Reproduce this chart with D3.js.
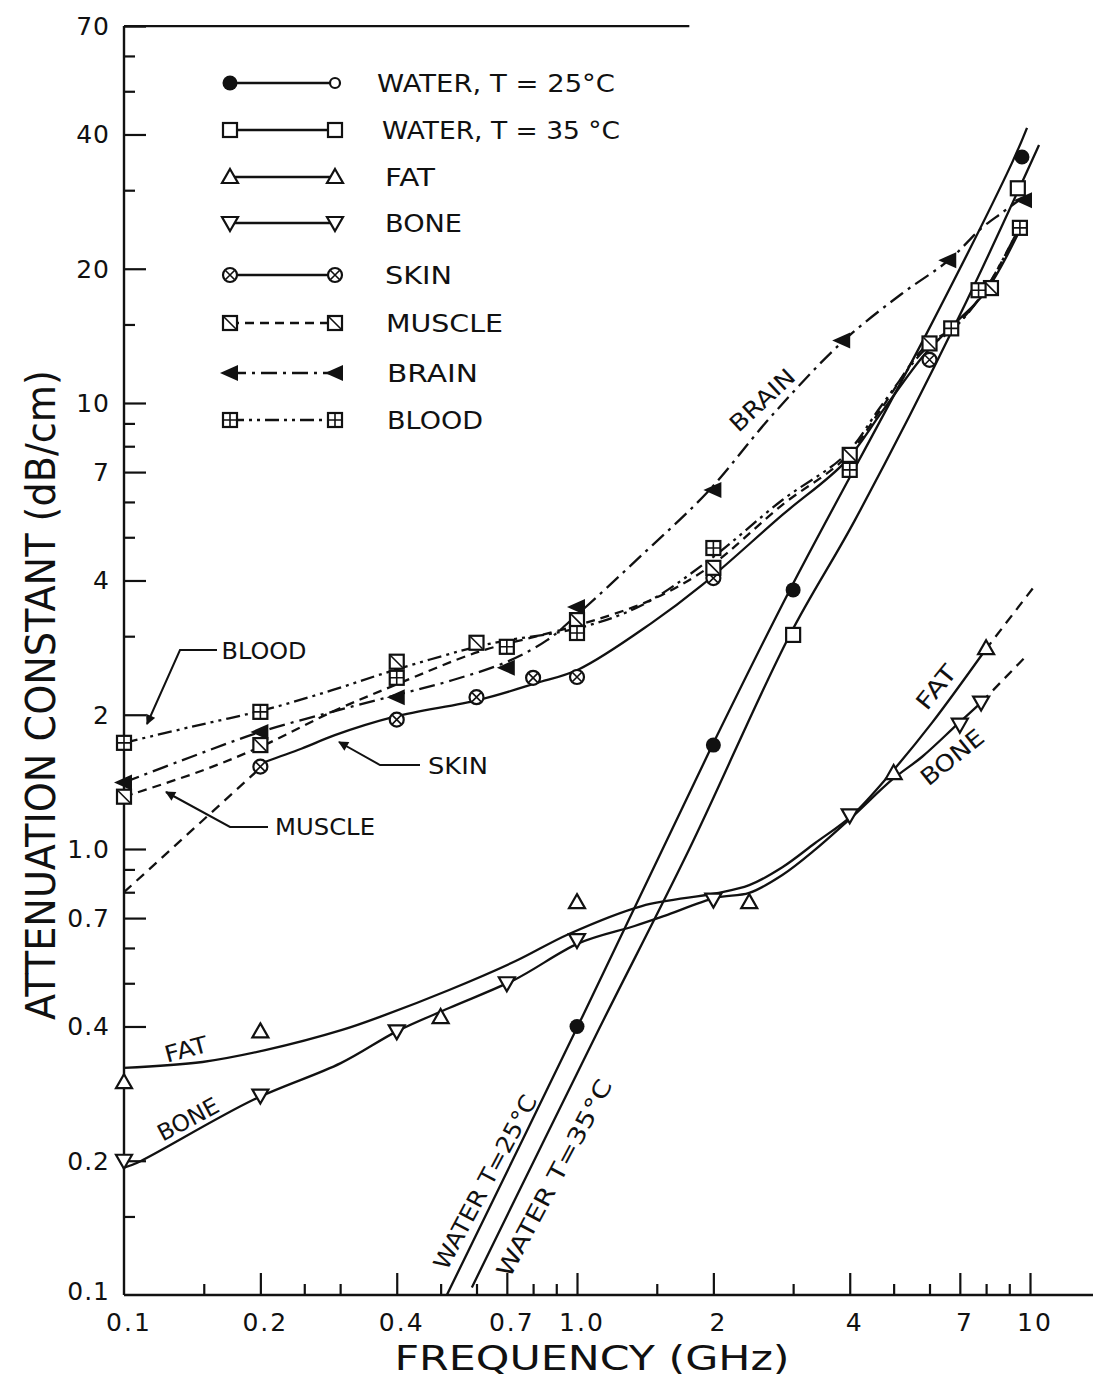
<!DOCTYPE html>
<html>
<head>
<meta charset="utf-8">
<script src="https://cdn.jsdelivr.net/npm/d3@7"></script>
<style>
  body { margin: 0; background: #fff; }
  svg { display: block; }
  text { font-family: "DejaVu Sans", sans-serif; fill: #111; }
</style>
</head>
<body>
<svg id="chart"></svg>
<script>
// ---- tick values / labels ----
const xMajor = [0.1, 0.2, 0.4, 0.7, 1, 2, 4, 7, 10];
const xMajorLabels = ["0.1", "0.2", "0.4", "0.7", "1.0", "2", "4", "7", "10"];
const xMinor = [0.15, 0.25, 0.3, 0.5, 0.6, 0.8, 0.9, 1.5, 3, 5, 6, 8, 9];
const yMajor = [0.2, 0.4, 0.7, 1, 2, 4, 7, 10, 20, 40, 70];
const yLabelValues = [0.1, 0.2, 0.4, 0.7, 1, 2, 4, 7, 10, 20, 40, 70];
const yLabels = ["0.1", "0.2", "0.4", "0.7", "1.0", "2", "4", "7", "10", "20", "40", "70"];
const yMinor = [0.15, 0.5, 0.6, 0.8, 0.9, 3, 5, 6, 8, 9, 15, 30, 50, 60];

// ---- measured points (GHz, dB/cm) ----
const water25Points = [[1.0, 0.40], [2.0, 1.71], [3.0, 3.81], [9.6, 35.6]];
const water35Points = [[3.0, 3.02], [9.4, 30.3]];
const fatPoints = [[0.1, 0.30], [0.2, 0.39], [0.5, 0.42], [1.0, 0.76], [2.4, 0.76], [5.0, 1.48], [8.0, 2.82]];
const bonePoints = [[0.1, 0.20], [0.2, 0.28], [0.4, 0.39], [0.7, 0.50], [1.0, 0.625], [2.0, 0.77], [4.0, 1.19], [7.0, 1.90], [7.8, 2.13]];
const skinPoints = [[0.2, 1.53], [0.4, 1.95], [0.6, 2.19], [0.8, 2.42], [1.0, 2.43], [2.0, 4.05], [6.0, 12.5]];
const musclePoints = [[0.1, 1.31], [0.2, 1.71], [0.4, 2.63], [0.6, 2.90], [1.0, 3.26], [2.0, 4.27], [4.0, 7.65], [6.0, 13.6], [8.2, 18.1]];
const brainPoints = [[0.1, 1.41], [0.2, 1.83], [0.4, 2.19], [0.7, 2.55], [1.0, 3.49], [2.0, 6.38], [3.85, 13.8], [6.6, 20.9], [9.7, 28.5]];
const bloodPoints = [[0.1, 1.73], [0.2, 2.03], [0.4, 2.42], [0.7, 2.84], [1.0, 3.05], [2.0, 4.73], [4.0, 7.08], [6.7, 14.7], [7.7, 17.9], [9.5, 24.7]];

// ---- fitted curves ----
const water25Curve = [[0.516, 0.1], [1.02, 0.414], [1.99, 1.71], [2.95, 3.81], [5.93, 14.4], [9.12, 34.5], [9.85, 41.4]];
const water35Curve = [[0.586, 0.104], [1.096, 0.379], [1.77, 1.0], [2.95, 3.02], [4.11, 5.47], [6.97, 15.6], [10.47, 37.9]];
const fatCurve = [[0.1, 0.323], [0.149, 0.333], [0.205, 0.354], [0.303, 0.393], [0.371, 0.422], [0.522, 0.483], [0.73, 0.56], [0.96, 0.645], [1.39, 0.745], [2.02, 0.795], [2.4, 0.83], [2.84, 0.91], [3.35, 1.03], [4.05, 1.19], [4.96, 1.49], [6.08, 1.92], [7.96, 2.79]];
const fatDashed = [[7.96, 2.79], [10.2, 3.87]];
const boneCurve = [[0.1, 0.193], [0.107, 0.198], [0.193, 0.274], [0.301, 0.331], [0.40, 0.39], [0.522, 0.44], [0.73, 0.51], [1.01, 0.615], [1.34, 0.672], [1.56, 0.708], [2.02, 0.777], [2.4, 0.797], [2.84, 0.874], [3.35, 0.995], [4.05, 1.18], [4.96, 1.43], [5.78, 1.61], [6.9, 1.90], [7.8, 2.13]];
const boneDashed = [[7.8, 2.13], [9.85, 2.72]];
const skinCurve = [[0.202, 1.56], [0.247, 1.68], [0.292, 1.80], [0.396, 1.98], [0.608, 2.16], [0.808, 2.35], [1.01, 2.53], [1.46, 3.21], [1.89, 3.91], [2.84, 5.61], [3.91, 7.38], [4.71, 9.55], [5.83, 12.8], [6.79, 15.0], [7.96, 17.7], [9.46, 24.2]];
const skinDashed = [[0.1, 0.80], [0.2, 1.52]];
const muscleCurve = [[0.1, 1.31], [0.149, 1.50], [0.204, 1.71], [0.288, 2.03], [0.396, 2.33], [0.608, 2.77], [0.837, 3.02], [1.01, 3.18], [1.46, 3.62], [1.96, 4.29], [2.84, 5.91], [3.91, 7.53], [4.71, 9.75], [5.83, 13.3], [6.79, 14.8], [7.96, 17.9], [9.46, 24.7]];
const bloodCurve = [[0.1, 1.73], [0.141, 1.88], [0.204, 2.05], [0.288, 2.27], [0.396, 2.52], [0.608, 2.85], [0.708, 2.94], [1.01, 3.13], [1.39, 3.52], [1.96, 4.45], [2.84, 6.06], [3.91, 7.65], [4.71, 9.9], [5.83, 13.1], [6.79, 14.7], [7.96, 17.9], [9.46, 24.7]];
const brainCurve = [[0.1, 1.41], [0.141, 1.61], [0.2, 1.83], [0.288, 2.03], [0.396, 2.21], [0.53, 2.39], [0.701, 2.63], [0.859, 2.94], [1.0, 3.35], [1.39, 4.56], [1.94, 6.31], [2.7, 9.4], [3.85, 13.7], [5.22, 17.6], [6.62, 20.9], [7.83, 24.7], [8.67, 26.7], [9.6, 28.8]];

const legendLabels = ["WATER, T = 25°C", "WATER, T = 35 °C", "FAT", "BONE", "SKIN", "MUSCLE", "BRAIN", "BLOOD"];

// ---- setup ----
const W = 1093, H = 1383;
const INK = "#111";
const svg = d3.select("#chart").attr("width", W).attr("height", H);
svg.append("rect").attr("width", W).attr("height", H).attr("fill", "#fff");

const x = d3.scaleLog().domain([0.1, 10]).range([124, 1030]);
const y = d3.scaleLog().domain([0.1, 10]).range([1295, 403]);

svg.append("defs").append("marker")
    .attr("id", "arrow")
    .attr("viewBox", "0 0 10 10")
    .attr("refX", 9).attr("refY", 5)
    .attr("markerWidth", 6).attr("markerHeight", 5)
    .attr("orient", "auto")
    .append("path").attr("d", "M0,0 L10,5 L0,10 z").attr("fill", INK);

// ---- axes ----
function styleAxis(g) {
    g.select(".domain").remove();
    g.attr("color", INK);
    g.selectAll(".tick line").attr("stroke-width", 2.2);
}
svg.append("g").attr("transform", "translate(124,0)")
    .call(d3.axisRight(y).tickValues(yMajor).tickSize(22).tickFormat(""))
    .call(styleAxis);
svg.append("g").attr("transform", "translate(124,0)")
    .call(d3.axisRight(y).tickValues(yMinor).tickSize(11).tickFormat(""))
    .call(styleAxis);
svg.append("g").attr("transform", "translate(0,1295)")
    .call(d3.axisTop(x).tickValues(xMajor.slice(1)).tickSize(22).tickFormat(""))
    .call(styleAxis);
svg.append("g").attr("transform", "translate(0,1295)")
    .call(d3.axisTop(x).tickValues(xMinor).tickSize(11).tickFormat(""))
    .call(styleAxis);

// axis lines
const frame = svg.append("g").attr("stroke", INK).attr("stroke-width", 2.4).attr("fill", "none");
frame.append("line").attr("x1", x(0.1)).attr("x2", x(0.1)).attr("y1", y(0.1)).attr("y2", y(70));
frame.append("line").attr("x1", x(0.1)).attr("x2", W).attr("y1", y(0.1)).attr("y2", y(0.1));
frame.append("line").attr("x1", x(0.1)).attr("x2", x(1.77)).attr("y1", y(70)).attr("y2", y(70));

// tick labels
svg.append("g").selectAll("text").data(yLabelValues).join("text")
    .attr("x", 110).attr("y", d => y(d) - (d === 0.1 ? 4 : 0)).attr("dy", "0.36em")
    .attr("text-anchor", "end")
    .style("font-size", "25px").style("letter-spacing", "1px")
    .text((d, i) => yLabels[i]);
svg.append("g").selectAll("text").data(xMajor).join("text")
    .attr("x", d => x(d) + 5).attr("y", 1322).attr("dy", "0.36em")
    .attr("text-anchor", "middle")
    .style("font-size", "25px").style("letter-spacing", "2px")
    .text((d, i) => xMajorLabels[i]);

// axis titles
svg.append("text")
    .attr("transform", "translate(55,695) rotate(-90)")
    .attr("text-anchor", "middle")
    .attr("textLength", 650).attr("lengthAdjust", "spacingAndGlyphs")
    .style("font-size", "41px")
    .text("ATTENUATION CONSTANT (dB/cm)");
svg.append("text")
    .attr("x", 592).attr("y", 1370)
    .attr("text-anchor", "middle")
    .attr("textLength", 395).attr("lengthAdjust", "spacingAndGlyphs")
    .style("font-size", "34px")
    .text("FREQUENCY  (GHz)");

// ---- marker shapes ----
function drawShape(g, type) {
    const s = 7;
    switch (type) {
        case "dot":
            g.append("circle").attr("r", 7.5).attr("fill", INK);
            break;
        case "ring":
            g.append("circle").attr("r", 5).attr("fill", "#fff").attr("stroke", INK).attr("stroke-width", 2.2);
            break;
        case "square":
            g.append("rect").attr("x", -s).attr("y", -s).attr("width", 2 * s).attr("height", 2 * s)
                .attr("fill", "#fff").attr("stroke", INK).attr("stroke-width", 2.2);
            break;
        case "triUp":
            g.append("path").attr("d", "M0,-8 L8,6 L-8,6 Z")
                .attr("fill", "#fff").attr("stroke", INK).attr("stroke-width", 2.2);
            break;
        case "triDown":
            g.append("path").attr("d", "M0,8 L8,-6 L-8,-6 Z")
                .attr("fill", "#fff").attr("stroke", INK).attr("stroke-width", 2.2);
            break;
        case "circleCross":
            g.append("circle").attr("r", s).attr("fill", "#fff").attr("stroke", INK).attr("stroke-width", 2.2);
            g.append("path").attr("d", "M-4.5,-4.5 L4.5,4.5 M4.5,-4.5 L-4.5,4.5").attr("stroke", INK).attr("stroke-width", 1.6);
            break;
        case "boxSlash":
            g.append("rect").attr("x", -s).attr("y", -s).attr("width", 2 * s).attr("height", 2 * s)
                .attr("fill", "#fff").attr("stroke", INK).attr("stroke-width", 2.2);
            g.append("path").attr("d", "M-6,-6 L6,6").attr("stroke", INK).attr("stroke-width", 1.6);
            break;
        case "boxPlus":
            g.append("rect").attr("x", -s).attr("y", -s).attr("width", 2 * s).attr("height", 2 * s)
                .attr("fill", "#fff").attr("stroke", INK).attr("stroke-width", 2.2);
            g.append("path").attr("d", "M0,-7 L0,7 M-7,0 L7,0").attr("stroke", INK).attr("stroke-width", 1.6);
            break;
        case "triLeft":
            g.append("path").attr("d", "M-10,0 L8,-8 L8,8 Z").attr("fill", INK);
            break;
    }
}

// ---- series ----
const lineGen = d3.line().x(d => x(d[0])).y(d => y(d[1])).curve(d3.curveCatmullRom.alpha(0.5));

const DASH = "9,6";
const DASHDOT = "16,6,3,6";
const DASHDOTDOT = "14,5,3,5,3,5";

const curves = [
    { data: water25Curve, dash: null },
    { data: water35Curve, dash: null },
    { data: fatCurve, dash: null },
    { data: fatDashed, dash: "10,7" },
    { data: boneCurve, dash: null },
    { data: boneDashed, dash: "10,7" },
    { data: skinCurve, dash: null },
    { data: skinDashed, dash: "10,7" },
    { data: muscleCurve, dash: DASH },
    { data: bloodCurve, dash: DASHDOTDOT },
    { data: brainCurve, dash: DASHDOT }
];

svg.append("g").selectAll("path").data(curves).join("path")
    .attr("d", d => lineGen(d.data))
    .attr("fill", "none")
    .attr("stroke", INK)
    .attr("stroke-width", 2.3)
    .attr("stroke-dasharray", d => d.dash);

const markerSets = [
    { data: fatPoints, type: "triUp" },
    { data: bonePoints, type: "triDown" },
    { data: skinPoints, type: "circleCross" },
    { data: musclePoints, type: "boxSlash" },
    { data: bloodPoints, type: "boxPlus" },
    { data: brainPoints, type: "triLeft" },
    { data: water35Points, type: "square" },
    { data: water25Points, type: "dot" }
];

markerSets.forEach(set => {
    svg.append("g").selectAll("g").data(set.data).join("g")
        .attr("transform", d => `translate(${x(d[0])},${y(d[1])})`)
        .each(function () { drawShape(d3.select(this), set.type); });
});

// ---- legend ----
const legendRows = [83, 130, 177, 223, 275, 323, 373, 420];
const legendStyle = [
    { left: "dot", right: "ring", dash: null, tx: 377, len: 238 },
    { left: "square", right: "square", dash: null, tx: 382, len: 238 },
    { left: "triUp", right: "triUp", dash: null, tx: 385, len: 50 },
    { left: "triDown", right: "triDown", dash: null, tx: 385, len: 77 },
    { left: "circleCross", right: "circleCross", dash: null, tx: 385, len: 67 },
    { left: "boxSlash", right: "boxSlash", dash: DASH, tx: 386, len: 117 },
    { left: "triLeft", right: "triLeft", dash: DASHDOT, tx: 387, len: 91 },
    { left: "boxPlus", right: "boxPlus", dash: DASHDOTDOT, tx: 387, len: 96 }
];

const legend = svg.append("g");
const items = legend.selectAll("g").data(legendLabels).join("g")
    .attr("transform", (d, i) => `translate(0,${legendRows[i]})`);
items.append("line")
    .attr("x1", 230).attr("x2", 334).attr("y1", 0).attr("y2", 0)
    .attr("stroke", INK).attr("stroke-width", 2.3)
    .attr("stroke-dasharray", (d, i) => legendStyle[i].dash);
items.each(function (d, i) {
    const g = d3.select(this);
    drawShape(g.append("g").attr("transform", "translate(230,0)"), legendStyle[i].left);
    drawShape(g.append("g").attr("transform", "translate(335,0)"), legendStyle[i].right);
});
items.append("text")
    .attr("x", (d, i) => legendStyle[i].tx).attr("y", 0).attr("dy", "0.36em")
    .attr("textLength", (d, i) => legendStyle[i].len).attr("lengthAdjust", "spacingAndGlyphs")
    .style("font-size", "25px")
    .text(d => d);

// ---- annotations ----
const notes = [
    { text: "BLOOD", x: 264, y: 651, rot: 0, len: 85 },
    { text: "SKIN", x: 458, y: 766, rot: 0, len: 60 },
    { text: "MUSCLE", x: 325, y: 827, rot: 0, len: 100 },
    { text: "BRAIN", x: 762, y: 400, rot: -43, len: 80 },
    { text: "FAT", x: 186, y: 1049, rot: -15, len: 44 },
    { text: "BONE", x: 188, y: 1119, rot: -28, len: 66 },
    { text: "FAT", x: 936, y: 687, rot: -51, len: 50 },
    { text: "BONE", x: 952, y: 757, rot: -39, len: 74 },
    { text: "WATER T=25°C", x: 485, y: 1182, rot: -62, len: 194 },
    { text: "WATER T=35°C", x: 554, y: 1178, rot: -62, len: 220 }
];
svg.append("g").selectAll("text").data(notes).join("text")
    .attr("transform", d => `translate(${d.x},${d.y}) rotate(${d.rot})`)
    .attr("text-anchor", "middle").attr("dy", "0.36em")
    .attr("textLength", d => d.len).attr("lengthAdjust", "spacingAndGlyphs")
    .style("font-size", "23px")
    .text(d => d.text);

const leaders = [
    [[217, 650], [180, 650], [147, 724]],
    [[420, 765], [380, 765], [339, 742]],
    [[268, 827], [230, 827], [166, 792]]
];
svg.append("g").selectAll("path").data(leaders).join("path")
    .attr("d", d => d3.line()(d))
    .attr("fill", "none").attr("stroke", INK).attr("stroke-width", 2)
    .attr("marker-end", "url(#arrow)");
</script>
</body>
</html>
